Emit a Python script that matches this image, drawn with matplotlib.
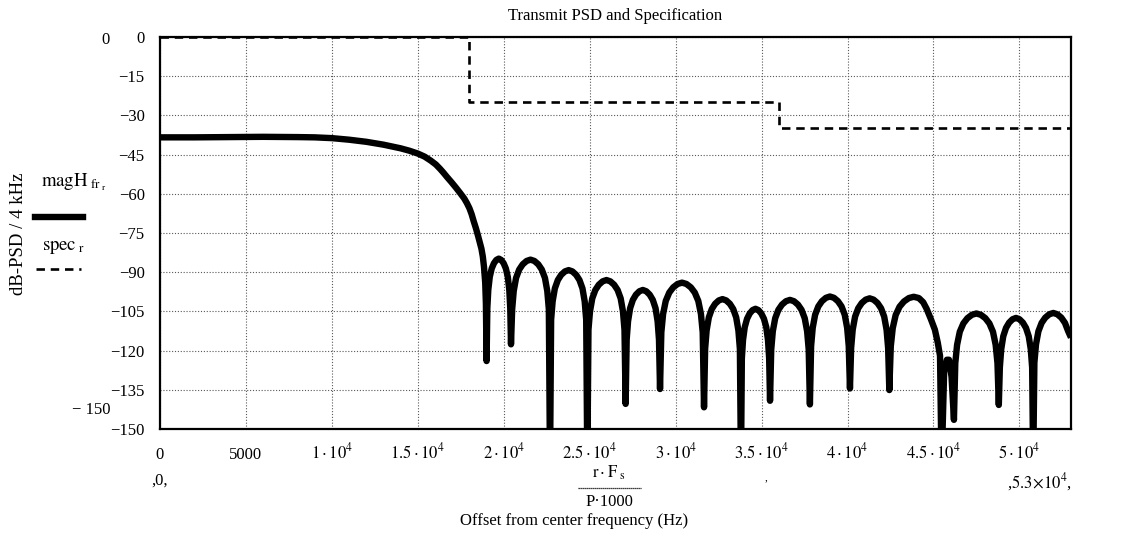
import numpy as np
import matplotlib
matplotlib.use("Agg")
import matplotlib.pyplot as plt
from matplotlib.lines import Line2D

# ---------------- data ----------------
# transmit PSD: frequency in kHz, level in dB
psd_freq_khz = [
    0, 2, 4, 6, 8, 9, 10, 11, 12, 13, 14, 14.5, 15, 15.4, 15.75, 16.05, 16.3, 16.5, 16.7,
    16.95, 17.2, 17.45, 17.7, 17.85, 18.0, 18.13, 18.25, 18.38, 18.5, 18.6, 18.7, 18.78,
    18.85, 18.92, 18.96, 19.0,
    19.043, 19.099, 19.185, 19.298, 19.426, 19.568, 19.71, 19.852, 19.994, 20.122, 20.235, 20.321, 20.377, 20.42,
    20.488, 20.579, 20.715, 20.897, 21.101, 21.328, 21.555, 21.782, 22.009, 22.213, 22.395, 22.531, 22.622, 22.69,
    22.755, 22.842, 22.972, 23.146, 23.341, 23.558, 23.775, 23.992, 24.209, 24.404, 24.578, 24.708, 24.795, 24.86,
    24.927, 25.016, 25.150, 25.328, 25.529, 25.752, 25.975, 26.198, 26.421, 26.622, 26.800, 26.934, 27.023, 27.09,
    27.15, 27.23, 27.35, 27.51, 27.69, 27.89, 28.09, 28.29, 28.49, 28.67, 28.83, 28.95, 29.03, 29.09,
    29.167, 29.269, 29.423, 29.628, 29.858, 30.114, 30.37, 30.626, 30.882, 31.112, 31.317, 31.471, 31.573, 31.65,
    31.715, 31.801, 31.930, 32.102, 32.295, 32.51, 32.725, 32.94, 33.155, 33.349, 33.521, 33.65, 33.736, 33.8,
    33.851, 33.918, 34.02, 34.155, 34.307, 34.476, 34.645, 34.814, 34.983, 35.135, 35.27, 35.372, 35.439, 35.49,
    35.56, 35.652, 35.792, 35.977, 36.186, 36.418, 36.65, 36.882, 37.114, 37.323, 37.508, 37.648, 37.74, 37.81,
    37.88, 37.973, 38.113, 38.299, 38.509, 38.742, 38.975, 39.208, 39.441, 39.651, 39.837, 39.977, 40.07, 40.14,
    40.209, 40.3, 40.438, 40.621, 40.827, 41.056, 41.285, 41.514, 41.743, 41.949, 42.132, 42.27, 42.361, 42.43,
    42.515, 42.629, 42.799, 43.026, 43.282, 43.566, 43.85, 44.15, 44.4, 44.6, 44.85, 45.08, 45.25, 45.38, 45.47,
    45.62, 45.78, 45.9, 46.05, 46.19,
    46.268, 46.373, 46.529, 46.738, 46.973, 47.234, 47.495, 47.756, 48.017, 48.252, 48.461, 48.617, 48.722, 48.8,
    48.86, 48.94, 49.06, 49.22, 49.4, 49.6, 49.8, 50.0, 50.2, 50.38, 50.54, 50.66, 50.74, 50.8,
    50.87, 50.964, 51.104, 51.291, 51.502, 51.736, 51.97, 52.204, 52.438, 52.649, 52.836, 53.0,
]
psd_db = [
    -38.4, -38.4, -38.3, -38.2, -38.3, -38.4, -38.7, -39.3, -40.1, -41.2, -42.6, -43.5, -44.6, -45.8, -47.3, -48.8, -50.5, -52, -53.6,
    -55.5, -57.5, -59.6, -61.8, -63.5, -65.5, -67.8, -70.5, -73.2, -76, -78.5, -81, -84,
    -88, -94, -102, -124,
    -103.8, -96.8, -91.8, -88.6, -86.6, -85.3, -84.8, -85.3, -86.6, -88.6, -91.8, -96.8, -103.8, -117.6,
    -104.2, -97.2, -92.2, -89.0, -87.0, -85.7, -85.2, -85.7, -87.0, -89.0, -92.2, -97.2, -104.2, -165,
    -108.2, -101.2, -96.2, -93.0, -91.0, -89.7, -89.2, -89.7, -91.0, -93.0, -96.2, -101.2, -108.2, -165,
    -112.0, -105.0, -100.0, -96.8, -94.8, -93.5, -93.0, -93.5, -94.8, -96.8, -100.0, -105.0, -112.0, -140.4,
    -115.8, -108.8, -103.8, -100.6, -98.6, -97.3, -96.8, -97.3, -98.6, -100.6, -103.8, -108.8, -115.8, -134.7,
    -113.0, -106.0, -101.0, -97.8, -95.8, -94.5, -94.0, -94.5, -95.8, -97.8, -101.0, -106.0, -113.0, -141.7,
    -119.3, -112.3, -107.3, -104.1, -102.1, -100.8, -100.3, -100.8, -102.1, -104.1, -107.3, -112.3, -119.3, -165,
    -123.0, -116.0, -111.0, -107.8, -105.8, -104.5, -104.0, -104.5, -105.8, -107.8, -111.0, -116.0, -123.0, -139.2,
    -119.6, -112.6, -107.6, -104.4, -102.4, -101.1, -100.6, -101.1, -102.4, -104.4, -107.6, -112.6, -119.6, -140.6,
    -118.3, -111.3, -106.3, -103.1, -101.1, -99.8, -99.3, -99.8, -101.1, -103.1, -106.3, -111.3, -118.3, -134.5,
    -119.0, -112.0, -107.0, -103.8, -101.8, -100.5, -100.0, -100.5, -101.8, -103.8, -107.0, -112.0, -119.0, -135.1,
    -118.4, -111.4, -106.4, -103.2, -101.2, -99.9, -99.4, -99.9, -101.5, -104.0, -108.0, -112.0, -117.0, -122.0, -165,
    -128, -123.5, -123.5, -130, -146.5,
    -124.8, -117.8, -112.8, -109.6, -107.6, -106.3, -105.8, -106.3, -107.6, -109.6, -112.8, -117.8, -124.8, -140.8,
    -126.5, -119.5, -114.5, -111.3, -109.3, -108.0, -107.5, -108.0, -109.3, -111.3, -114.5, -119.5, -126.5, -165,
    -124.6, -117.6, -112.6, -109.4, -107.4, -106.1, -105.6, -106.1, -107.4, -109.4, -112.6, -115.0,
]

# specification mask
spec_freq_hz = [0, 18000, 18000, 36000, 36000, 53000]
spec_db = [0, 0, -25, -25, -35, -35]

# ticks
x_ticks = [0, 5000, 10000, 15000, 20000, 25000, 30000, 35000, 40000, 45000, 50000]
x_tick_labels = ["0", "5000", r"$1\cdot10^{4}$", r"$1.5\cdot10^{4}$", r"$2\cdot10^{4}$",
                 r"$2.5\cdot10^{4}$", r"$3\cdot10^{4}$", r"$3.5\cdot10^{4}$",
                 r"$4\cdot10^{4}$", r"$4.5\cdot10^{4}$", r"$5\cdot10^{4}$"]
y_ticks = [0, -15, -30, -45, -60, -75, -90, -105, -120, -135, -150]
y_tick_labels = ["0", "\u221215", "\u221230", "\u221245", "\u221260", "\u221275",
                 "\u221290", "\u2212105", "\u2212120", "\u2212135", "\u2212150"]

# ---------------- figure ----------------
plt.rcParams['font.family'] = ['Liberation Serif', 'DejaVu Serif']
plt.rcParams['mathtext.fontset'] = 'stix'
plt.rcParams['font.size'] = 12

W, H = 1123, 549
fig = plt.figure(figsize=(W / 100, H / 100), dpi=100)
fx = lambda px: px / W
fy = lambda py: 1 - py / H

ax = fig.add_axes([fx(160), fy(429), (1071 - 160) / W, (429 - 37) / H])

ax.plot(np.array(psd_freq_khz) * 1000, psd_db, color='black', lw=4.6,
        solid_joinstyle='round', solid_capstyle='butt', zorder=3)
ax.plot(spec_freq_hz, spec_db, color='black', lw=1.9, linestyle=(0, (3.2, 2.2)), zorder=3)

ax.set_xlim(0, 53000)
ax.set_ylim(-150, 0)
ax.set_xticks(x_ticks)
ax.set_xticklabels(x_tick_labels)
ax.set_yticks(y_ticks)
ax.set_yticklabels(y_tick_labels)
ax.tick_params(axis='both', length=0, labelsize=12)
ax.tick_params(axis='y', pad=11)
ax.tick_params(axis='x', pad=21.5)
for lab in ax.get_xticklabels():
    lab.set_verticalalignment('baseline')
ax.grid(True, color='0.35', linestyle=(0, (1, 1.6)), linewidth=0.8)
for s in ax.spines.values():
    s.set_linewidth(1.6)
    s.set_color('black')

# title and axis texts
fig.text(fx(615), fy(16), "Transmit PSD and Specification", ha='center', va='center', fontsize=12)
fig.text(fx(19), fy(234), "dB-PSD / 4 kHz", rotation=90, ha='center', va='center', fontsize=13.5)
fig.text(fx(105), fy(40), "0", ha='center', va='center', fontsize=12)
fig.text(fx(110), fy(410), "\u2212 150", ha='right', va='center', fontsize=12)

# legend-like labels
fig.text(fx(41), fy(182), r"$\mathrm{magH}_{\ \mathrm{fr}_{\ \mathrm{r}}}$", ha='left', va='center', fontsize=13.5)
fig.add_artist(Line2D([fx(35), fx(83)], [fy(217), fy(217)], color='black', lw=4.6))
fig.text(fx(42), fy(248), r"$\mathrm{spec}_{\ \mathrm{r}}$", ha='left', va='center', fontsize=13.5)
fig.add_artist(Line2D([fx(36), fx(81)], [fy(269), fy(269)], color='black', lw=1.9,
                      linestyle=(0, (3.2, 2.2))))

# range markers and x label
fig.text(fx(160), fy(481), ",0,", ha='center', va='center', fontsize=12)
fig.text(fx(1040), fy(482), r",$5.3\!\times\!10^{4}$,", ha='center', va='center', fontsize=12)
fig.text(fx(609), fy(473), r"$\mathrm{r\cdot F}_{\ \mathrm{s}}$", ha='center', va='center', fontsize=12)
fig.add_artist(Line2D([fx(578), fx(641)], [fy(488), fy(488)], color='black', lw=0.9,
                      linestyle=(0, (1, 0.6))))
fig.text(fx(609), fy(502), "P\u00b71000", ha='center', va='center', fontsize=12)
fig.text(fx(574), fy(521), "Offset from center frequency (Hz)", ha='center', va='center', fontsize=12)
fig.text(fx(766), fy(478), ",", ha='center', va='center', fontsize=8)

fig.savefig("out.png", dpi=100)
